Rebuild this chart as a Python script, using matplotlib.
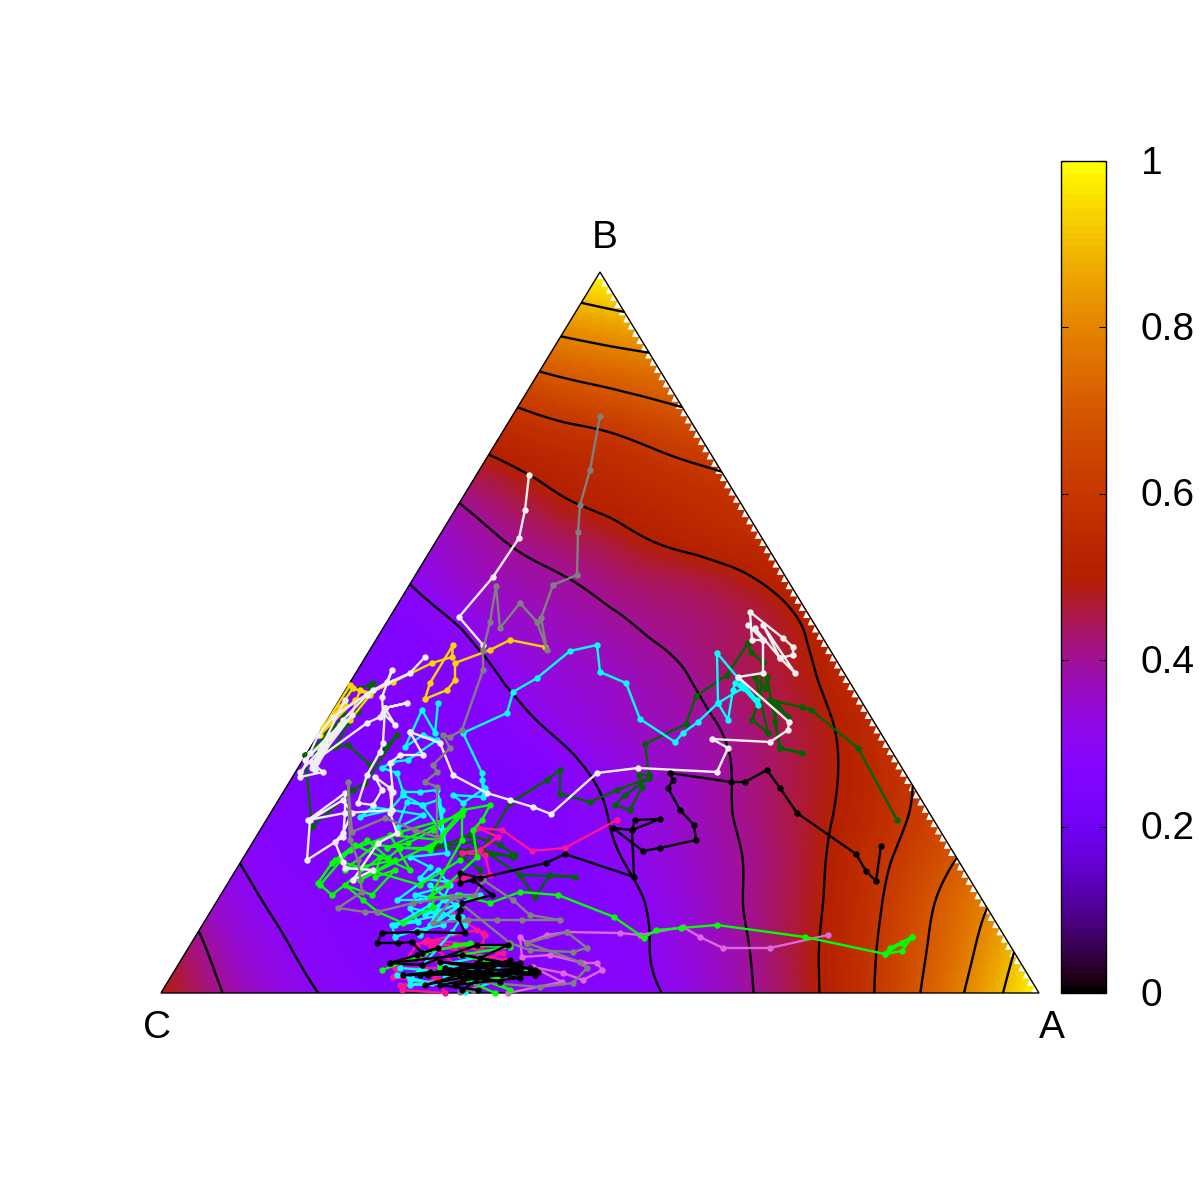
import matplotlib
matplotlib.use("Agg")
import numpy as np
import matplotlib.pyplot as plt
import matplotlib.tri as mtri
from matplotlib.cm import ScalarMappable
from matplotlib.colors import Normalize
from matplotlib.patches import Polygon
from matplotlib.transforms import ScaledTranslation

plt.rcParams['font.family'] = ['Liberation Sans', 'DejaVu Sans']

# corners of the triangle in digitising units
cx, base_y = 161.0, 993.0
ax_x = 1039.0
top_x, top_y = 600.0, 272.0

# field values read row by row from the base (C to A) up to B
field_rows = [
    [.495, .41, .34, .295, .27, .26, .26, .265, .28, .295, .35, .415, .50, .60, .72, .85, 1.0],
    [.43, .345, .295, .265, .255, .255, .26, .27, .285, .33, .385, .46, .545, .65, .76, .89],
    [.35, .295, .27, .255, .25, .25, .25, .265, .31, .365, .425, .495, .585, .69, .79],
    [.295, .265, .25, .25, .25, .25, .265, .305, .35, .395, .455, .53, .615, .70],
    [.265, .25, .25, .25, .25, .26, .295, .335, .38, .43, .485, .55, .63],
    [.25, .25, .25, .25, .25, .29, .33, .365, .405, .455, .51, .585],
    [.25, .25, .25, .265, .305, .34, .37, .395, .44, .485, .555],
    [.25, .255, .27, .315, .345, .37, .395, .44, .475, .54],
    [.255, .275, .325, .36, .38, .405, .43, .46, .52],
    [.295, .345, .375, .395, .425, .445, .475, .525],
    [.35, .39, .425, .46, .50, .525, .555],
    [.41, .46, .505, .53, .555, .58],
    [.505, .54, .56, .595, .625],
    [.60, .637, .667, .70],
    [.727, .756, .78],
    [.856, .887],
    [1.0],
]
contour_levels = [.3, .4, .5, .6, .7, .8, .9]
bar_ticks = [0, .2, .4, .6, .8, 1]
bar_labels = ['0', '0.2', '0.4', '0.6', '0.8', '1']

# trajectories (x, y) in digitising units
dark_green_a = [(897, 820), (858, 748), (811, 710), (802, 707), (770, 700), (788, 717), (777, 703), (775, 722),
                (780, 748), (802, 753), (780, 748), (767, 677), (765, 688), (755, 677), (768, 733), (752, 720),
                (760, 697), (763, 662), (751, 652), (748, 643), (727, 675), (696, 696), (686, 724), (645, 744),
                (649, 775), (639, 775), (642, 787), (630, 810), (615, 805), (625, 795), (649, 778), (617, 790),
                (590, 802), (560, 794), (560, 770), (547, 780), (510, 803), (482, 850), (513, 857), (468, 850),
                (435, 847), (473, 842), (483, 850), (520, 875), (575, 877), (550, 875), (535, 897), (520, 875)]
dark_green_b = [(373, 683), (358, 712), (348, 723), (335, 747), (348, 745), (370, 765), (397, 735), (365, 783),
                (353, 790), (312, 827), (305, 755), (335, 747)]
dark_green_c = [(305, 755), (325, 740), (345, 715), (318, 745), (350, 690), (370, 685)]
dark_green_d = [(430, 850), (470, 835), (500, 845), (515, 855), (460, 855), (480, 870)]
gold_a = [(545, 647), (510, 640), (490, 650), (455, 663), (455, 680), (447, 690), (425, 699), (430, 683),
          (453, 645), (452, 657), (432, 663), (393, 682), (370, 693), (360, 690), (350, 720), (370, 695),
          (353, 688), (340, 707), (323, 728)]
gold_b = [(350, 685), (325, 725), (345, 705), (320, 735), (355, 700)]
pink_a = [(617, 820), (565, 848), (532, 851), (502, 830), (478, 828), (498, 837), (480, 850), (462, 853),
          (485, 855), (490, 875), (463, 878), (437, 887), (452, 913), (485, 935), (482, 945), (427, 940),
          (417, 945), (393, 977), (413, 980), (402, 990), (445, 993), (435, 978), (467, 965), (503, 953),
          (425, 942), (477, 930), (483, 933)]
pink_b = [(395, 968), (480, 968), (420, 958), (500, 975), (400, 985), (470, 975), (430, 945), (505, 960)]
orchid_a = [(828, 935), (770, 948), (723, 948), (700, 937), (683, 927), (640, 935), (620, 933), (567, 932),
            (547, 935), (527, 943), (520, 937), (522, 957), (550, 955), (583, 963), (597, 963), (602, 970),
            (583, 980), (563, 973), (533, 967), (562, 982), (508, 993)]
cyan_a = [(758, 705), (740, 685), (735, 683), (733, 690), (728, 720), (718, 703), (717, 653), (738, 678),
          (757, 700), (743, 688), (718, 703), (698, 722), (683, 733), (675, 742), (640, 719), (626, 683),
          (600, 672), (597, 645), (570, 651), (537, 678), (513, 692), (507, 713), (463, 733), (482, 773),
          (483, 797), (453, 795), (463, 803), (485, 788), (482, 780)]
cyan_b = [(438, 703), (435, 733), (422, 710), (405, 747), (423, 735), (437, 740), (408, 760), (392, 762),
          (382, 768), (397, 773), (403, 792), (420, 792), (437, 790), (442, 810), (443, 833), (422, 805),
          (403, 795), (390, 810), (360, 817), (373, 807), (423, 815), (397, 828), (407, 802), (423, 805),
          (438, 800), (443, 830), (447, 853), (410, 857), (430, 867), (420, 878), (447, 882), (438, 870),
          (397, 900), (420, 900), (457, 895), (480, 895), (435, 913), (410, 908), (418, 922), (392, 925),
          (395, 937), (417, 930), (443, 925), (453, 917), (462, 917), (452, 932), (410, 980), (432, 983),
          (397, 975), (467, 970), (497, 967), (480, 957), (440, 965), (512, 975), (465, 992)]
cyan_c = [(430, 885), (455, 905), (425, 915), (445, 900), (415, 895), (450, 885), (430, 925), (460, 905),
          (420, 935), (440, 915), (395, 925), (430, 905), (465, 925)]
cyan_d = [(400, 968), (480, 975), (420, 972), (500, 980), (410, 985), (470, 982), (525, 972), (445, 978)]
lime_a = [(912, 937), (890, 948), (885, 954), (902, 951), (912, 937), (902, 943), (885, 954), (805, 937),
          (717, 925), (681, 928), (656, 930), (644, 938), (614, 917), (558, 895), (520, 892), (490, 903),
          (460, 895), (433, 898), (433, 907), (403, 923), (378, 912), (363, 900), (345, 885), (372, 895),
          (395, 870), (375, 877), (380, 857), (332, 895), (318, 883), (332, 863), (340, 858), (367, 840),
          (388, 858), (400, 848), (430, 848), (463, 810), (490, 805), (482, 820), (473, 830), (477, 857),
          (447, 885), (430, 897), (462, 840), (462, 813), (387, 848), (408, 843), (433, 830), (463, 810)]
lime_b = [(382, 970), (418, 957), (425, 953), (470, 943), (455, 945), (510, 947), (460, 955), (523, 970),
          (493, 980), (510, 990), (470, 975), (440, 968), (495, 993)]
lime_c = [(320, 885), (350, 850), (400, 832), (462, 815), (430, 850), (375, 845), (345, 870), (395, 860),
          (360, 880), (440, 840), (390, 835), (410, 870), (355, 845), (335, 860), (420, 885), (460, 860)]
white_a = [(529, 475), (525, 510), (519, 538), (493, 577), (459, 617), (483, 645)]
white_b = [(410, 732), (440, 743), (453, 775), (487, 793), (510, 800), (533, 807), (551, 814), (597, 773),
           (638, 768), (717, 772), (728, 748), (712, 739), (770, 742), (788, 730), (789, 722), (738, 677),
           (763, 673), (763, 640), (752, 640), (750, 612), (783, 638), (793, 647), (793, 655), (780, 658),
           (763, 625), (795, 673), (780, 658), (755, 628), (763, 640), (748, 625)]
white_c = [(425, 657), (410, 673), (373, 690), (333, 717), (318, 735), (310, 753), (300, 777), (323, 772),
           (312, 763), (367, 723), (380, 717), (385, 708), (407, 703), (385, 708), (395, 725), (383, 713),
           (382, 697), (392, 670), (387, 682), (367, 695), (343, 720), (325, 743), (313, 763)]
white_d = [(385, 708), (383, 743), (380, 752), (367, 775), (358, 803), (373, 805), (382, 790), (375, 777),
           (390, 788), (392, 810), (345, 813), (308, 820), (345, 793), (345, 813), (343, 837), (307, 860),
           (310, 820), (343, 800), (352, 813), (343, 833), (335, 842), (343, 862), (345, 868), (373, 870),
           (353, 880), (378, 843), (397, 833), (390, 813), (393, 792), (390, 763), (400, 755), (423, 755),
           (410, 732)]
white_e = [(300, 772), (325, 745), (315, 770), (340, 725), (305, 760), (330, 735), (312, 768), (352, 715),
           (320, 750), (345, 700)]
gray_a = [(600, 416), (590, 470), (580, 505), (578, 532), (577, 575), (553, 585), (541, 618), (547, 650),
          (537, 622), (520, 603), (500, 628), (496, 586), (490, 622), (483, 650), (483, 670), (462, 730),
          (450, 737), (443, 735), (450, 748), (433, 765), (437, 772), (425, 782), (437, 787), (437, 837),
          (415, 830), (385, 818), (352, 832), (348, 782), (350, 840), (358, 860), (362, 892), (338, 908),
          (365, 912), (377, 912), (413, 903), (453, 897), (475, 895), (483, 880), (513, 900), (530, 915),
          (560, 920), (522, 920), (497, 920), (468, 920), (433, 923), (453, 897), (510, 943), (530, 950),
          (573, 952), (587, 948), (567, 932), (527, 943), (580, 962), (587, 968), (573, 983), (540, 987),
          (477, 982), (473, 990), (460, 992)]
black_a = [(881, 846), (876, 881), (866, 871), (856, 854), (797, 813), (780, 788), (767, 770), (745, 782),
           (731, 782), (670, 773), (673, 780), (668, 788), (680, 810), (694, 825), (696, 840), (660, 848),
           (643, 851), (613, 828), (632, 830), (660, 819), (635, 820), (632, 830), (634, 877), (565, 854),
           (546, 863), (480, 878), (460, 873), (460, 883), (473, 880), (492, 895), (462, 903), (460, 910),
           (458, 917), (465, 933), (417, 932), (382, 933), (377, 943), (398, 943), (412, 942), (422, 953),
           (438, 948), (417, 955), (390, 963), (422, 965), (477, 945), (508, 945), (480, 958), (535, 970),
           (538, 972), (428, 975), (403, 975), (520, 963), (477, 963), (450, 970), (473, 977), (502, 975),
           (463, 980), (520, 970), (440, 985), (478, 990)]
black_b = [(390, 963), (462, 955), (507, 963), (420, 975), (530, 968), (440, 962), (535, 975), (430, 972),
           (500, 982), (445, 968), (520, 978), (455, 985), (510, 960), (425, 985), (490, 972), (462, 990)]

traces = [
    (dark_green_a, '#006400'), (dark_green_b, '#006400'), (dark_green_c, '#006400'), (dark_green_d, '#006400'),
    (gold_a, '#ffd700'), (gold_b, '#ffd700'),
    (pink_a, '#ff1493'), (pink_b, '#ff1493'),
    (orchid_a, '#e066e0'),
    (cyan_a, '#00ffff'), (cyan_b, '#00ffff'), (cyan_c, '#00ffff'), (cyan_d, '#00ffff'),
    (lime_a, '#00ff00'), (lime_b, '#00ff00'), (lime_c, '#00ff00'),
    (white_a, '#f0f0f0'), (white_b, '#f0f0f0'), (white_c, '#f0f0f0'), (white_d, '#f0f0f0'), (white_e, '#f0f0f0'),
    (gray_a, '#808080'),
    (black_a, '#000000'), (black_b, '#000000'),
]

fig = plt.figure(figsize=(12, 12), dpi=100)
ax = fig.add_axes([161 / 1200, 207 / 1200, 878 / 1200, 721 / 1200])
ax.set_xlim(cx, ax_x)
ax.set_ylim(base_y, top_y)
ax.axis('off')

# lattice under the field
n = len(field_rows) - 1
px, py, pz = [], [], []
for j, row in enumerate(field_rows):
    for i, v in enumerate(row):
        px.append(cx + (ax_x - cx) * (i + j / 2) / n)
        py.append(base_y + (top_y - base_y) * j / n)
        pz.append(v)
lattice = mtri.Triangulation(np.array(px), np.array(py))
interp = mtri.CubicTriInterpolator(lattice, np.array(pz), kind='min_E')
fine, fine_z = mtri.UniformTriRefiner(lattice).refine_field(np.array(pz), triinterpolator=interp, subdiv=4)
fine_z = np.clip(fine_z, 0, 1)

cmap = plt.get_cmap('gnuplot', 128)
norm = Normalize(0, 1)
mesh = ax.tripcolor(fine, fine_z, cmap=cmap, norm=norm, shading='gouraud', zorder=1)
ax.tricontour(fine, fine_z, levels=contour_levels, colors='black', linewidths=1.7, zorder=3)

# white saw teeth where the field rows stop short of the right side
rows = 100
edge_y = np.linspace(base_y, top_y, rows + 1)
edge_x = ax_x + (top_x - ax_x) * (base_y - edge_y) / (base_y - top_y)
for k in range(rows):
    tooth = [(edge_x[k] - 7.5, edge_y[k]), (edge_x[k], edge_y[k]), (edge_x[k + 1], edge_y[k + 1])]
    ax.add_patch(Polygon(tooth, closed=True, facecolor='white', edgecolor='none', zorder=2))

for points, colour in traces:
    xs = [p[0] for p in points]
    ys = [p[1] for p in points]
    ax.plot(xs, ys, '-o', color=colour, lw=1.7, ms=4.6, mew=0, clip_on=False, zorder=5)

ax.add_patch(Polygon([(cx, base_y), (ax_x, base_y), (top_x, top_y)], closed=True, fill=False,
                     edgecolor='black', lw=1.0, clip_on=False, zorder=4))

fig.text(605 / 1200, 1 - 238 / 1200, 'B', fontsize=28, ha='center', va='center')
fig.text(157 / 1200, 1 - 1028 / 1200, 'C', fontsize=28, ha='center', va='center')
fig.text(1052 / 1200, 1 - 1028 / 1200, 'A', fontsize=28, ha='center', va='center')

cax = fig.add_axes([1061 / 1200, 207 / 1200, 45 / 1200, 832 / 1200])
bar = fig.colorbar(ScalarMappable(norm=norm, cmap=cmap), cax=cax)
bar.set_ticks(bar_ticks, labels=bar_labels)
bar.outline.set_linewidth(1.0)
cax.tick_params(axis='y', direction='in', length=5, width=0.8, left=True, right=True, labelsize=28, pad=25)
for label in cax.get_yticklabels():
    label.set_transform(label.get_transform() + ScaledTranslation(0, 1.5 / 100, fig.dpi_scale_trans))

fig.savefig('out.png', dpi=100)
